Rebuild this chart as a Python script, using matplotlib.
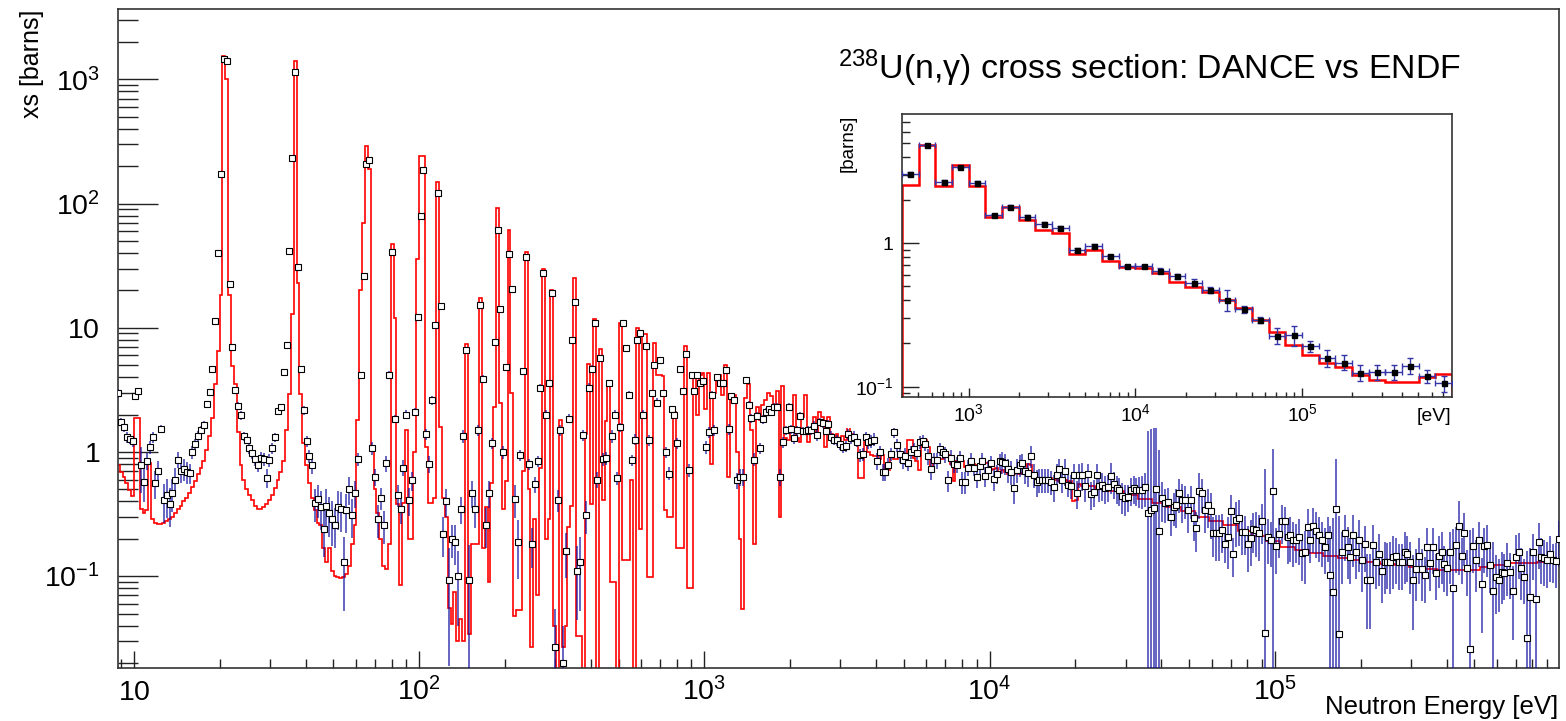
import numpy as np
import matplotlib
matplotlib.use("Agg")
import matplotlib.pyplot as plt
from matplotlib.ticker import LogLocator, NullFormatter
from matplotlib.patches import Rectangle

plt.rcParams["font.family"] = "Liberation Sans"
plt.rcParams["mathtext.fontset"] = "custom"
plt.rcParams["mathtext.rm"] = "Liberation Sans"
plt.rcParams["mathtext.it"] = "Liberation Sans:italic"

# ---- main spectrum: 100 log bins per decade, first bin starts at 10^0.94 eV ----
first_bin = 94
last_bin = 600

# DANCE capture cross section per bin [barns]
dance_xs = [
    2.96, 1.75, 1.58, 1.32, 1.28, 1.23, 2.83, 3.1, 0.78, 0.57,
    0.85, 1.09, 1.32, 0.56, 0.70, 1.54, 0.41, 0.45, 0.38, 0.47,
    0.59, 0.87, 0.70, 0.73, 0.69, 0.68, 1.0, 1.15, 1.34, 1.49,
    1.65, 2.44, 3.06, 4.67, 11.4, 40, 173, 1470, 1420, 22.4,
    7.0, 3.13, 2.34, 1.98, 1.34, 1.26, 1.07, 0.98, 0.88, 0.79,
    0.9, 0.88, 0.62, 0.86, 1.08, 1.32, 2.15, 2.3, 4.4, 7.3,
    41.5, 232, 1150, 31, 4.7, 2.17, 1.23, 0.92, 0.78, 0.39,
    0.42, 0.36, 0.24, 0.37, 0.32, 0.29, 0.26, 0.36, 0.35, 0.13,
    0.34, 0.5, 0.31, 0.47, 0.88, 4.2, 26, 210, 225, 1.08,
    0.63, 0.29, 0.43, 0.26, 0.81, 4.2, 41, 1.85, 0.45, 0.35,
    0.75, 2.0, 0.41, 0.59, 2.1, 12.3, 80, 188, 1.4, 0.8,
    2.6, 10.5, 121, 15.1, 0.22, 0.40, 0.094, 0.2, 0.19, 0.10,
    0.35, 1.35, 6.6, 0.094, 0.47, 0.35, 1.5, 15.4, 3.9, 0.26,
    0.47, 1.18, 7.7, 61, 14.2, 1.0, 4.8, 39, 20.7, 0.42,
    0.19, 0.94, 4.5, 37.4, 0.8, 0.18, 0.55, 0.84, 3.3, 27.5,
    2.0, 3.6, 18.9, 0.027, 0.41, 1.5, 0.02, 0.16, 1.86, 8.0,
    16, 0.11, 0.13, 1.37, 0.31, 3.3, 4.7, 10.9, 0.6, 5.7,
    0.88, 0.9, 3.6, 1.35, 2.0, 0.62, 1.58, 10.9, 6.9, 2.9,
    0.86, 1.26, 8.0, 9.0, 2.0, 7.2, 1.24, 3.0, 5.0, 2.5,
    5.5, 3.0, 1.0, 0.67, 2.2, 2.0, 1.18, 4.7, 3.1, 6.1,
    0.71, 4.2, 3.1, 4.2, 3.6, 3.7, 1.1, 1.44, 2.9, 1.5,
    4.0, 3.6, 3.6, 4.6, 1.53, 2.8, 2.6, 0.59, 0.63, 0.63,
    3.8, 2.4, 1.87, 0.87, 1.95, 1.07, 1.83, 2.1, 2.2, 2.1,
    2.3, 2.3, 0.63, 1.2, 1.5, 2.3, 1.53, 1.3, 1.5, 1.95,
    1.48, 1.48, 1.5, 1.5, 1.63, 1.36, 1.75, 1.7, 1.48, 1.68,
    1.33, 1.26, 1.25, 1.16, 1.1, 1.12, 1.4, 1.3, 1.33, 1.21,
    0.95, 0.97, 1.32, 1.2, 1.22, 1.26, 0.85, 1.0, 0.69, 0.69,
    0.78, 0.97, 1.44, 1.14, 0.96, 0.86, 0.93, 0.82, 1.0, 1.05,
    0.98, 1.2, 1.22, 1.16, 0.92, 0.73, 0.86, 0.86, 1.05, 1.0,
    0.96, 0.59, 0.9, 0.8, 0.79, 0.89, 0.57, 0.57, 0.75, 0.85,
    0.75, 0.63, 0.77, 0.85, 0.64, 0.72, 0.81, 0.61, 0.67, 0.84,
    0.836, 0.810, 0.725, 0.694, 0.510, 0.716, 0.786, 0.810, 0.707, 0.673,
    0.929, 0.653, 0.577, 0.595, 0.595, 0.595, 0.595, 0.577, 0.526, 0.653,
    0.725, 0.595, 0.707, 0.542, 0.532, 0.653, 0.465, 0.653, 0.653, 0.532,
    0.661, 0.459, 0.479, 0.653, 0.532, 0.542, 0.510, 0.526, 0.641, 0.553,
    0.510, 0.494, 0.442, 0.423, 0.437, 0.494, 0.510, 0.494, 0.494, 0.494,
    0.519, 0.325, 0.341, 0.356, 0.501, 0.231, 0.423, 0.386, 0.398, 0.302,
    0.363, 0.374, 0.465, 0.411, 0.411, 0.341, 0.411, 0.296, 0.243, 0.485,
    0.465, 0.341, 0.374, 0.335, 0.221, 0.221, 0.221, 0.236, 0.182, 0.208,
    0.335, 0.151, 0.284, 0.292, 0.228, 0.228, 0.180, 0.202, 0.238, 0.236,
    0.221, 0.280, 0.035, 0.208, 0.196, 0.485, 0.175, 0.217, 0.278, 0.278,
    0.208, 0.215, 0.196, 0.196, 0.206, 0.153, 0.158, 0.250, 0.196, 0.254,
    0.233, 0.215, 0.196, 0.173, 0.215, 0.102, 0.074, 0.350, 0.034, 0.156,
    0.221, 0.173, 0.144, 0.215, 0.158, 0.196, 0.135, 0.180, 0.094, 0.094,
    0.178, 0.131, 0.151, 0.110, 0.131, 0.131, 0.131, 0.144, 0.145, 0.129,
    0.129, 0.157, 0.151, 0.131, 0.093, 0.114, 0.145, 0.114, 0.102, 0.173,
    0.127, 0.173, 0.107, 0.145, 0.156, 0.125, 0.116, 0.156, 0.080, 0.178,
    0.254, 0.145, 0.221, 0.116, 0.026, 0.176, 0.135, 0.196, 0.087, 0.176,
    0.178, 0.123, 0.076, 0.099, 0.094, 0.109, 0.107, 0.127, 0.109, 0.076,
    0.144, 0.158, 0.117, 0.099, 0.032, 0.068, 0.156, 0.066, 0.190, 0.144,
    0.139, 0.135, 0.151, 0.135, 0.133, 0.199,
]

# statistical uncertainty per bin [%]
dance_err_pct = [
    8, 8, 8, 10, 10, 10, 6, 6, 40, 30,
    15, 12, 10, 25, 20, 8, 35, 35, 35, 30,
    25, 15, 20, 20, 20, 18, 12, 10, 10, 8,
    8, 6, 5, 4, 3, 3, 2, 2, 2, 3,
    4, 6, 7, 8, 8, 8, 10, 10, 12, 12,
    12, 12, 18, 12, 10, 8, 6, 6, 5, 4,
    3, 2, 2, 3, 5, 8, 10, 12, 15, 30,
    30, 35, 40, 35, 35, 40, 35, 35, 35, 60,
    35, 25, 35, 25, 12, 5, 3, 2, 2, 12,
    15, 30, 20, 30, 15, 6, 3, 8, 20, 25,
    15, 8, 25, 18, 8, 4, 3, 2, 10, 15,
    8, 5, 3, 4, 35, 25, 80, 30, 35, 60,
    25, 12, 5, 90, 25, 30, 10, 4, 6, 35,
    25, 10, 5, 3, 4, 12, 6, 3, 4, 30,
    50, 10, 5, 3, 10, 35, 15, 10, 6, 3,
    8, 6, 3, 100, 20, 10, 100, 40, 8, 5,
    4, 60, 60, 10, 30, 8, 6, 4, 15, 5,
    12, 12, 6, 12, 8, 12, 8, 4, 5, 6,
    10, 10, 4, 4, 8, 4, 10, 6, 5, 8,
    5, 6, 10, 12, 6, 6, 10, 5, 6, 5,
    12, 5, 6, 5, 6, 6, 12, 10, 6, 10,
    5, 6, 6, 5, 10, 6, 6, 15, 15, 15,
    6, 8, 8, 12, 8, 10, 8, 8, 7, 7,
    7, 7, 15, 10, 8, 7, 8, 10, 8, 7,
    8, 8, 8, 8, 8, 10, 8, 8, 8, 8,
    10, 10, 10, 10, 10, 10, 10, 10, 10, 10,
    12, 12, 10, 12, 12, 12, 15, 12, 15, 15,
    15, 12, 10, 12, 15, 15, 15, 15, 12, 12,
    12, 12, 12, 12, 15, 18, 15, 15, 12, 12,
    15, 20, 15, 15, 15, 15, 20, 20, 15, 15,
    15, 18, 15, 15, 18, 18, 15, 20, 18, 15,
    20, 20, 22, 22, 25, 22, 20, 20, 22, 22,
    20, 22, 25, 22, 22, 22, 22, 22, 25, 22,
    22, 22, 25, 20, 22, 22, 25, 22, 25, 25,
    22, 25, 25, 22, 25, 25, 25, 25, 28, 25,
    25, 25, 28, 28, 25, 25, 25, 25, 28, 30,
    30, 350, 350, 350, 300, 350, 35, 30, 30, 30,
    30, 35, 30, 35, 30, 35, 30, 35, 35, 40,
    30, 35, 35, 40, 35, 40, 40, 35, 30, 45,
    35, 35, 40, 40, 35, 35, 40, 40, 35, 40,
    40, 35, 2000, 40, 40, 120, 40, 35, 35, 30,
    40, 40, 40, 35, 40, 40, 45, 40, 35, 40,
    40, 40, 40, 40, 40, 150, 300, 150, 800, 45,
    40, 45, 40, 45, 40, 45, 45, 40, 60, 60,
    45, 40, 45, 45, 45, 40, 45, 45, 40, 40,
    40, 45, 40, 45, 60, 45, 40, 45, 40, 40,
    40, 40, 40, 45, 45, 40, 40, 45, 200, 40,
    60, 40, 45, 40, 800, 40, 45, 40, 60, 40,
    45, 40, 150, 50, 45, 45, 40, 45, 40, 60,
    50, 40, 45, 40, 400, 150, 40, 150, 40, 40,
    40, 40, 40, 35, 40, 40,
]

# ENDF evaluation, same 0.01-decade bins from 10^0.94 to 10^4.32 eV
endf_fine = [
    0.78, 0.69, 0.63, 0.56, 0.49, 0.44, 1.87, 1.87, 0.35, 0.32,
    0.34, 0.81, 0.29, 0.27, 0.265, 0.265, 0.27, 0.28, 0.29, 0.30,
    0.32, 0.35, 0.37, 0.40, 0.43, 0.47, 0.52, 0.58, 0.66, 0.75,
    0.85, 1.04, 1.34, 1.87, 3.5, 6.5, 18.5, 1550, 1000, 18.5,
    4.9, 3.5, 1.45, 0.78, 0.6, 0.5, 0.45, 0.41, 0.37, 0.35,
    0.35, 0.36, 0.38, 0.41, 0.45, 0.51, 0.6, 0.69, 0.85, 1.5,
    2.95, 13, 1420, 23, 2.95, 1.18, 0.78, 0.56, 0.43, 0.34,
    0.27, 0.26, 0.17, 0.13, 0.17, 0.11, 0.1, 0.098, 0.097, 0.098,
    0.105, 0.12, 0.18, 0.26, 1.8, 20, 70, 290, 190, 1.1,
    0.5, 0.32, 0.2, 0.12, 0.115, 0.18, 47, 12, 0.38, 0.085,
    0.39, 1.5, 0.2, 0.2, 1.0, 36, 240, 240, 1.1, 0.39,
    0.39, 0.43, 148, 1.6, 0.43, 0.3, 0.055, 0.041, 0.074, 0.03,
    0.045, 0.03, 7.4, 0.034, 0.18, 0.18, 0.18, 17.4, 0.17, 0.36,
    0.09, 0.56, 2.3, 93, 2.5, 0.35, 0.58, 61, 3.0, 0.048,
    0.053, 0.053, 0.7, 41, 0.5, 0.027, 0.29, 0.07, 0.75, 29.5,
    0.2, 0.29, 20, 0.04, 0.01, 1.8, 0.027, 0.04, 0.25, 0.37,
    25, 0.033, 0.033, 0.01, 1.4, 5.1, 0.38, 11.8, 0.01, 6.8,
    0.41, 1.77, 3.5, 0.089, 0.089, 0.01, 10.9, 0.135, 0.135, 0.135,
    0.6, 0.01, 10, 0.24, 8.9, 8.9, 0.098, 0.098, 7.5, 4.2,
    4.2, 4.1, 0.34, 0.3, 0.3, 2.1, 0.17, 0.17, 0.17, 7.1,
    0.08, 0.08, 4.1, 2.0, 4.2, 4.3, 2.2, 4.3, 0.8, 3.0,
    4.2, 4.2, 2.9, 5.0, 0.63, 2.7, 2.9, 1.0, 0.2, 0.054,
    2.7, 3.5, 1.5, 0.18, 2.3, 1.8, 2.4, 2.6, 3.0, 2.8,
    2.3, 3.1, 0.3, 3.4, 1.3, 1.25, 1.5, 2.9, 1.3, 1.2,
    1.9, 2.9, 1.2, 1.5, 1.9, 1.3, 2.1, 1.9, 1.1, 1.9,
    1.4, 1.3, 1.4, 1.2, 1.35, 1.25, 1.6, 1.4, 1.3, 1.26,
    0.62, 0.62, 1.2, 1.0, 0.95, 0.92, 0.92, 0.88, 0.95, 0.72,
    0.72, 1.0, 0.88, 0.88, 1.0, 1.0, 0.95, 1.26, 1.26, 0.9,
    0.85, 0.72, 1.26, 1.26, 1.1, 0.72, 0.85, 0.86, 0.88, 0.88,
    0.95, 0.95, 0.8, 0.58, 0.85, 0.85, 0.85, 0.76, 0.76, 0.8,
    0.8, 0.78, 0.78, 0.8, 0.82, 0.82, 0.72, 0.73, 0.74, 0.68,
    0.71, 0.69, 0.66, 0.72, 0.67, 0.7, 0.66, 0.68, 0.68, 0.8,
    0.78, 0.64, 0.6, 0.61, 0.61, 0.6, 0.61, 0.62, 0.6, 0.59,
    0.58, 0.6, 0.59, 0.57, 0.58, 0.40, 0.41, 0.55,
]
# smooth unresolved region, 0.05-decade steps from 10^4.32 to 10^6.02 eV
endf_tail = [
    0.532, 0.515, 0.482, 0.45, 0.415, 0.386, 0.363, 0.335, 0.302, 0.280,
    0.256, 0.233, 0.211, 0.191, 0.173, 0.162, 0.153, 0.145, 0.140, 0.135,
    0.130, 0.125, 0.122, 0.118, 0.115, 0.113, 0.113, 0.113, 0.118, 0.123,
    0.128, 0.127, 0.130, 0.134,
]

# ---- inset: 10 bins per decade from 10^2.6 to 10^5.9 eV ----
inset_xs = [
    3.02, 4.82, 2.67, 3.4, 2.64, 1.56, 1.79, 1.52, 1.36, 1.28,
    0.898, 0.953, 0.807, 0.687, 0.687, 0.644, 0.588, 0.531, 0.474, 0.404,
    0.345, 0.293, 0.226, 0.229, 0.192, 0.158, 0.147, 0.125, 0.127, 0.127,
    0.14, 0.118, 0.105,
]
inset_err_pct = [
    3, 2, 3, 2, 3, 3, 3, 3, 3, 3,
    3, 3, 3, 3, 3, 4, 4, 5, 5, 17,
    6, 5, 13, 16, 9, 13, 12, 13, 12, 12,
    13, 11, 13,
]
inset_endf = [
    2.53, 4.82, 2.49, 3.49, 2.5, 1.52, 1.79, 1.46, 1.23, 1.18,
    0.842, 0.889, 0.756, 0.68, 0.669, 0.617, 0.533, 0.492, 0.454, 0.404,
    0.353, 0.293, 0.241, 0.196, 0.166, 0.147, 0.136, 0.121, 0.111, 0.108,
    0.107, 0.116, 0.122,
]

W, H = 1566, 721
fig = plt.figure(figsize=(W / 100, H / 100), dpi=100)
fig.patch.set_facecolor("white")

ax = fig.add_axes([118 / W, 1 - 668 / H, (1559 - 118) / W, (668 - 9) / H])
ax.set_xscale("log")
ax.set_yscale("log")

# ENDF step histogram
fine_edges = np.arange(first_bin, 433) / 100
tail_edges = 4.32 + 0.05 * np.arange(1, len(endf_tail) + 1)
endf_edges = 10 ** np.concatenate([fine_edges, tail_edges])
endf_vals = np.array(endf_fine + endf_tail)
ax.stairs(endf_vals, endf_edges, baseline=1e-3, color="#ff0000", lw=1.2, zorder=2)

# DANCE points with vertical error bars
xs = np.array(dance_xs)
xc = 10 ** ((np.arange(first_bin, last_bin) + 0.5) / 100)
err = xs * np.array(dance_err_pct) / 100.0
lo = np.clip(xs - err, 1e-4, None)
hi = xs + err
ax.vlines(xc, lo, hi, colors="#0b0b9e", lw=1.1, alpha=0.8, zorder=3)
ax.plot(xc, xs, "s", ms=4.2, mfc="white", mec="black", mew=0.8, zorder=4)

ax.set_xlim(8.79, 9.92e5)
ax.set_ylim(0.01823, 3690)

ax.set_xticks([10, 1e2, 1e3, 1e4, 1e5],
              [r"$\mathregular{10}$", r"$\mathregular{10^{2}}$", r"$\mathregular{10^{3}}$",
               r"$\mathregular{10^{4}}$", r"$\mathregular{10^{5}}$"], va="baseline")
ax.set_yticks([0.1, 1, 10, 100, 1000],
              [r"$\mathregular{10^{-1}}$", r"$\mathregular{1}$", r"$\mathregular{10}$",
               r"$\mathregular{10^{2}}$", r"$\mathregular{10^{3}}$"])
for a in (ax.xaxis, ax.yaxis):
    a.set_minor_locator(LogLocator(base=10, subs=np.arange(2, 10), numticks=100))
    a.set_minor_formatter(NullFormatter())

ax.tick_params(which="both", direction="in", top=False, right=False, color="#222222", width=1.0)
ax.tick_params(axis="y", which="major", length=29, pad=13, labelsize=20.5)
ax.tick_params(axis="y", which="minor", length=14.5)
ax.tick_params(axis="x", which="major", length=12.5, pad=23, labelsize=20.5)
ax.tick_params(axis="x", which="minor", length=6.5)
for s in ax.spines.values():
    s.set_color("#333333")
    s.set_linewidth(1.2)

fig.text(32 / W, 1 - 10 / H, "xs [barns]", rotation=90, ha="center", va="top", fontsize=18)
fig.text(1558 / W, 1 - 714 / H, "Neutron Energy [eV]", ha="right", va="baseline", fontsize=18.5)

# white pad holding the inset and the title
pad = Rectangle((838 / W, 1 - 428 / H), (1466 - 838) / W, (428 - 30) / H,
                transform=fig.transFigure, facecolor="white", edgecolor="none", zorder=1)
fig.add_artist(pad)

fig.text(838 / W, 1 - 68 / H, r"$\mathregular{^{238}}$U(n,γ) cross section: DANCE vs ENDF",
         ha="left", va="center", fontsize=24.4, zorder=3)

# ---- inset ----
ax2 = fig.add_axes([902 / W, 1 - 397 / H, (1452 - 902) / W, (397 - 114) / H])
ax2.set_zorder(2)
ax2.set_facecolor("white")
ax2.set_xscale("log")
ax2.set_yscale("log")

in_edges = 10 ** (np.arange(26, 60) / 10)
ax2.stairs(np.array(inset_endf), in_edges, baseline=1e-3, color="#ff0000", lw=1.8, zorder=2)

ixs = np.array(inset_xs)
ic = np.sqrt(in_edges[:-1] * in_edges[1:])
ierr = ixs * np.array(inset_err_pct) / 100.0
ax2.errorbar(ic, ixs, yerr=ierr, xerr=[ic - in_edges[:-1], in_edges[1:] - ic],
             fmt="s", ms=3.6, mfc="black", mec="black", ecolor="#3535a8",
             elinewidth=1.0, capsize=2, capthick=1.0, zorder=3)

ax2.set_xlim(10 ** 2.6, 10 ** 5.9)
ax2.set_ylim(0.0845, 7.95)
ax2.set_xticks([1e3, 1e4, 1e5],
               [r"$\mathregular{10^{3}}$", r"$\mathregular{10^{4}}$", r"$\mathregular{10^{5}}$"],
               va="baseline")
ax2.set_yticks([0.1, 1], [r"$\mathregular{10^{-1}}$", r"$\mathregular{1}$"])
for a in (ax2.xaxis, ax2.yaxis):
    a.set_minor_locator(LogLocator(base=10, subs=np.arange(2, 10), numticks=100))
    a.set_minor_formatter(NullFormatter())
ax2.tick_params(which="both", direction="in", top=False, right=False, color="#222222", width=1.0)
ax2.tick_params(axis="y", which="major", length=12, pad=6, labelsize=14)
ax2.tick_params(axis="y", which="minor", length=6)
ax2.tick_params(axis="x", which="major", length=6.5, pad=17, labelsize=14)
ax2.tick_params(axis="x", which="minor", length=3.3)
for s in ax2.spines.values():
    s.set_color("#333333")
    s.set_linewidth(1.2)

fig.text(848 / W, 1 - 115 / H, "[barns]", rotation=90, ha="center", va="top", fontsize=13.5, zorder=3)
fig.text(1451 / W, 1 - 421 / H, "[eV]", ha="right", va="baseline", fontsize=14, zorder=3)

fig.savefig("out.png", dpi=100)
